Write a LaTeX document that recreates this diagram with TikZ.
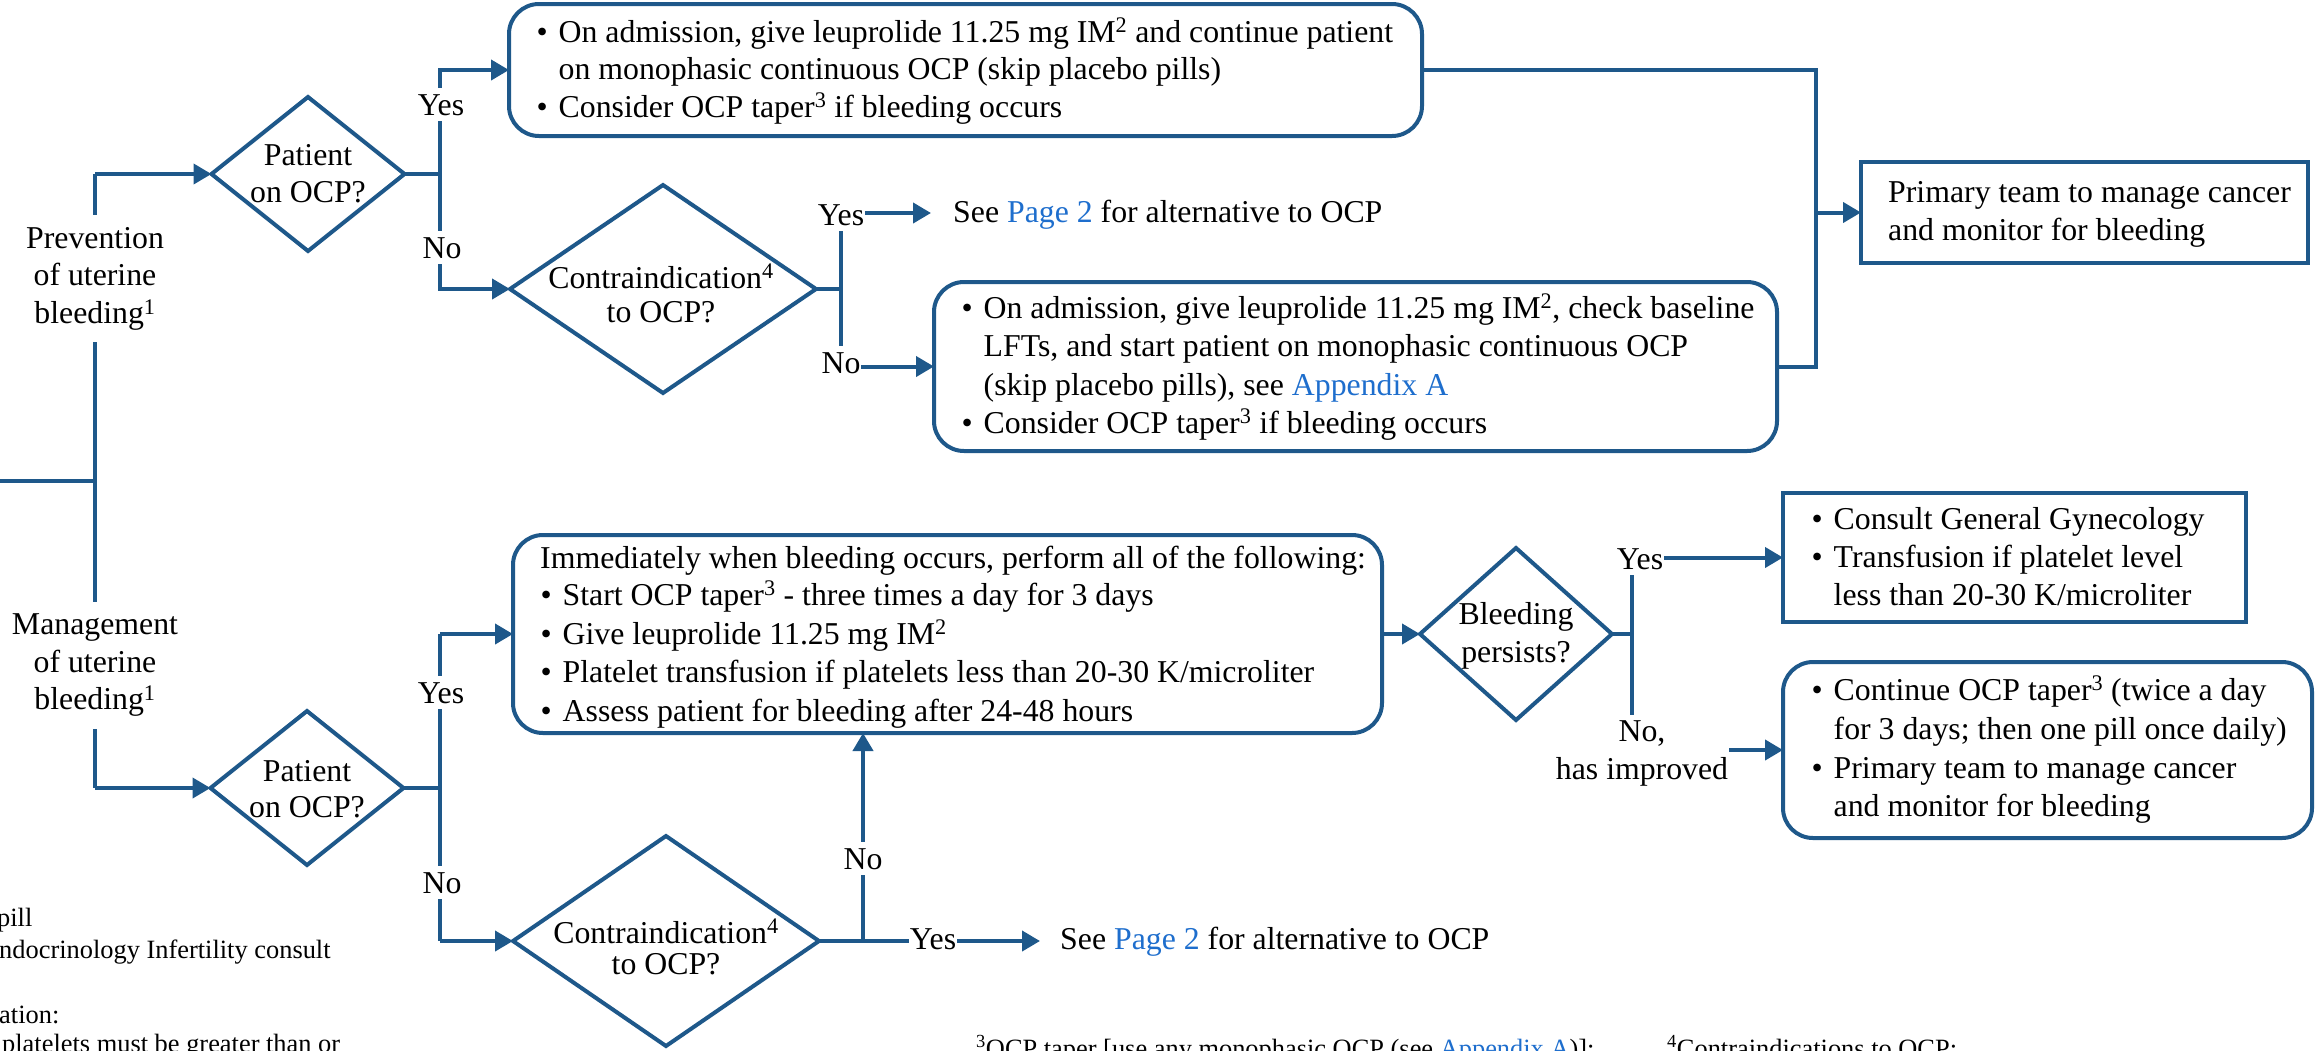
\documentclass[tikz,border=0pt]{standalone}
\usepackage{fontspec}
\setmainfont{Liberation Serif}
\usetikzlibrary{shapes.geometric,arrows.meta}
\definecolor{flow}{RGB}{30,88,138}
\definecolor{link}{RGB}{30,110,205}
\newcommand\bul{\makebox[22pt][l]{\textbullet}}
\newcommand\ind{\hspace*{22pt}}
\begin{document}
\begin{tikzpicture}[x=1pt,y=-1pt,
  conn/.style={draw=flow,line width=4pt},
  arr/.style={conn,-{Triangle[length=18pt,width=20pt]}},
  rbox/.style={draw=flow,line width=4pt,rounded corners=30pt,inner sep=0pt,outer sep=0pt},
  sbox/.style={draw=flow,line width=4pt,inner sep=0pt,outer sep=0pt},
  dec/.style={diamond,draw=flow,line width=4pt,inner sep=0pt,outer sep=0pt},
  txt/.style={font=\fontsize{31.8}{37.5}\selectfont,inner sep=0pt,anchor=base west},
  ctr/.style={font=\fontsize{31.8}{37.5}\selectfont,inner sep=0pt,anchor=base},
  lbl/.style={font=\fontsize{31.8}{37.5}\selectfont,fill=white,inner xsep=1pt,inner ysep=6pt,anchor=base},
  foot/.style={font=\fontsize{26.4}{31}\selectfont,inner sep=0pt,anchor=base west},
]
\useasboundingbox (0,0) rectangle (2315,1050);
\clip (0,0) rectangle (2315,1050);

% ---- boxes
\node[rbox,minimum width=913pt,minimum height=132pt] (b1) at (965.5,70) {};
\node[rbox,minimum width=843pt,minimum height=169pt] (b2) at (1355.5,366.5) {};
\node[sbox,minimum width=447pt,minimum height=101pt] (pt) at (2084.5,212.5) {};
\node[rbox,minimum width=869pt,minimum height=198pt] (b3) at (947.5,634) {};
\node[sbox,minimum width=463pt,minimum height=129pt] (b4) at (2014.5,557.5) {};
\node[rbox,minimum width=529pt,minimum height=176pt] (b5) at (2047.5,750) {};

% ---- decisions
\node[dec,minimum width=193pt,minimum height=154pt] (d1) at (308,174) {};
\node[dec,minimum width=193pt,minimum height=154pt] (d2) at (307,788) {};
\node[dec,minimum width=306pt,minimum height=208pt] (d3) at (663,289) {};
\node[dec,minimum width=306pt,minimum height=210pt] (d4) at (666,941) {};
\node[dec,minimum width=192pt,minimum height=172pt] (d5) at (1516,634) {};

% ---- coordinates
\coordinate (L0) at (0,481);
\coordinate (Lmid) at (95,481);
\coordinate (Ltop) at (95,174);
\coordinate (Lbot) at (95,788);
\coordinate (J1t) at (440,70);
\coordinate (J1b) at (440,289);
\coordinate (J2t) at (841,213);
\coordinate (J2b) at (841,366.5);
\coordinate (P2a) at (931,213);
\coordinate (M) at (1816,212.5);
\coordinate (J3t) at (440,634);
\coordinate (J3b) at (440,941);
\coordinate (J4) at (863,941);
\coordinate (P2b) at (1040,941);
\coordinate (J5t) at (1632,557.5);
\coordinate (J5b) at (1632,750);

% ---- connectors
\draw[conn] (L0) -- (Lmid);
\draw[conn] (Ltop) -- (Lbot);
\draw[arr] (Ltop) -- (d1.west);
\draw[arr] (Lbot) -- (d2.west);

\draw[conn] (d1.east) -- (J1t |- d1.east);
\draw[arr] (J1t |- d1.east) -- (J1t) -- (b1.west);
\draw[arr] (J1t |- d1.east) -- (J1b) -- (d3.west);

\draw[conn] (d3.east) -- (J2t |- d3.east);
\draw[conn] (J2t) -- (J2b);
\draw[arr] (J2t) -- (P2a);
\draw[arr] (J2b) -- (b2.west);

\draw[conn] (b1.east) -| (M |- b2.east) -- (b2.east);
\draw[arr] (M) -- (pt.west);

\draw[conn] (d2.east) -- (J3t |- d2.east);
\draw[conn] (J3t) -- (J3b);
\draw[arr] (J3t) -- (b3.west);
\draw[arr] (J3b) -- (d4.west);

\draw[arr] (d4.east) -- (P2b);
\draw[arr] (J4) -- (J4 |- b3.south);

\draw[arr] (b3.east) -- (d5.west);

\draw[conn] (d5.east) -- (J5t |- d5.east);
\draw[conn] (J5t) -- (J5b);
\draw[arr] (J5t) -- (b4.west);
\draw[arr] (J5b) -- (b5.west);

% ---- connector labels
\node[lbl] (y1) at (441,115) {Yes};
\node[lbl] (n1) at (442,258) {No};
\node[lbl] (y2) at (841,225) {Yes};
\node[lbl] (n2) at (841,373) {No};
\node[lbl] (y3) at (441,703) {Yes};
\node[lbl] (n3) at (442,893) {No};
\node[lbl] (y4) at (933,949) {Yes};
\node[lbl] (n4) at (863,869) {No};
\node[lbl] (y5) at (1640,569) {Yes};
\node[lbl,align=center,anchor=center] (n5) at (1642,753.5) {No,\\has improved};

\node[lbl,align=center,anchor=center,inner ysep=12pt] (prev) at (95,278.5) {Prevention\\of uterine\\bleeding\textsuperscript{1}};
\node[lbl,align=center,anchor=center,inner ysep=12pt] (mgmt) at (95,665.5) {Management\\of uterine\\bleeding\textsuperscript{1}};

% ---- decision texts
\node[ctr] (d1a) at (308,165) {Patient};
\node[ctr] (d1b) at (308,202) {on OCP?};
\node[ctr] (d2a) at (307,781) {Patient};
\node[ctr] (d2b) at (307,817) {on OCP?};
\node[ctr] (d3a) at (661,288) {Contraindication\textsuperscript{4}};
\node[ctr] (d3b) at (661,322) {to OCP?};
\node[ctr] (d4a) at (666,943) {Contraindication\textsuperscript{4}};
\node[ctr] (d4b) at (666,974) {to OCP?};
\node[ctr] (d5a) at (1516,624) {Bleeding};
\node[ctr] (d5b) at (1516,662) {persists?};

% ---- box texts
\node[txt] (b1l1) at (536.5,42) {\bul On admission, give leuprolide 11.25 mg IM\textsuperscript{2} and continue patient};
\node[txt] (b1l2) at (536.5,79.5) {\ind on monophasic continuous OCP (skip placebo pills)};
\node[txt] (b1l3) at (536.5,117) {\bul Consider OCP taper\textsuperscript{3} if bleeding occurs};

\node[txt] (s1) at (953,222) {See \textcolor{link}{Page 2} for alternative to OCP};

\node[txt] (b2l1) at (961.5,318) {\bul On admission, give leuprolide 11.25 mg IM\textsuperscript{2}, check baseline};
\node[txt] (b2l2) at (961.5,356.5) {\ind LFTs, and start patient on monophasic continuous OCP};
\node[txt] (b2l3) at (961.5,395) {\ind (skip placebo pills), see \textcolor{link}{Appendix A}};
\node[txt] (b2l4) at (961.5,433) {\bul Consider OCP taper\textsuperscript{3} if bleeding occurs};

\node[txt] (ptl1) at (1888,202) {Primary team to manage cancer};
\node[txt] (ptl2) at (1888,240) {and monitor for bleeding};

\node[txt] (b3l0) at (540,568) {Immediately when bleeding occurs, perform all of the following:};
\node[txt] (b3l1) at (540.5,605) {\bul Start OCP taper\textsuperscript{3} - three times a day for 3 days};
\node[txt] (b3l2) at (540.5,644) {\bul Give leuprolide 11.25 mg IM\textsuperscript{2}};
\node[txt] (b3l3) at (540.5,682) {\bul Platelet transfusion if platelets less than 20-30 K/microliter};
\node[txt] (b3l4) at (540.5,721) {\bul Assess patient for bleeding after 24-48 hours};

\node[txt] (b4l1) at (1811.5,529) {\bul Consult General Gynecology};
\node[txt] (b4l2) at (1811.5,567) {\bul Transfusion if platelet level};
\node[txt] (b4l3) at (1811.5,605) {\ind less than 20-30 K/microliter};

\node[txt] (b5l1) at (1811.5,700) {\bul Continue OCP taper\textsuperscript{3} (twice a day};
\node[txt] (b5l2) at (1811.5,739) {\ind for 3 days; then one pill once daily)};
\node[txt] (b5l3) at (1811.5,778) {\bul Primary team to manage cancer};
\node[txt] (b5l4) at (1811.5,816) {\ind and monitor for bleeding};

\node[txt] (s2) at (1060,949) {See \textcolor{link}{Page 2} for alternative to OCP};

% ---- footnotes (cut by the frame)
\node[foot] (f1) at (-3,926) {pill};
\node[foot] (f2) at (-1,958) {ndocrinology Infertility consult};
\node[foot] (f3) at (-1,1023) {ation:};
\node[foot] (f4) at (2,1052) {platelets must be greater than or};
\node[foot] (f5) at (976,1057) {\textsuperscript{3}OCP taper [use any monophasic OCP (see \textcolor{link}{Appendix A})]:};
\node[foot] (f6) at (1667,1057) {\textsuperscript{4}Contraindications to OCP:};
\end{tikzpicture}
\end{document}
